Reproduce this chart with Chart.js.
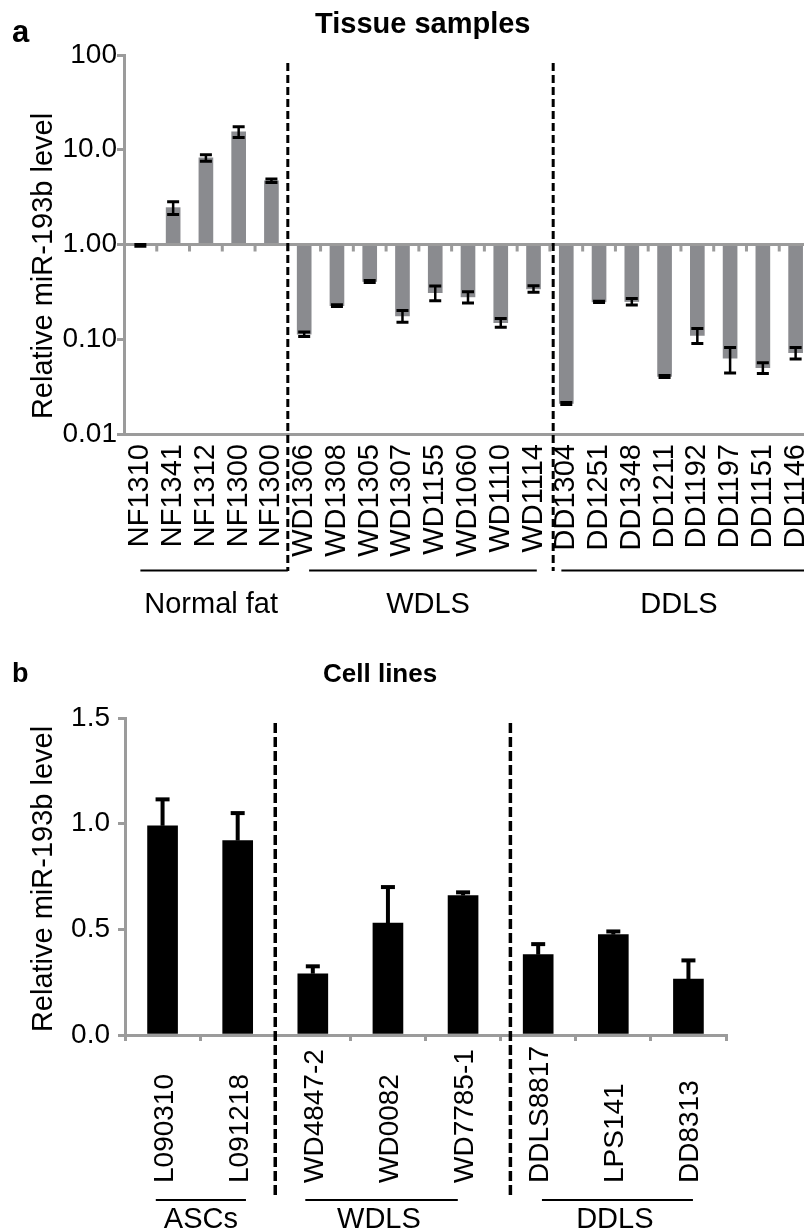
<!DOCTYPE html>
<html>
<head>
<meta charset="utf-8">
<script src="https://cdn.jsdelivr.net/npm/chart.js@4"></script>
<style>
html, body { margin: 0; padding: 0; overflow: hidden; background: #fff; width: 804px; height: 1230px; }
#chartA { position: absolute; left: 0; top: 0; }
#chartB { position: absolute; left: 0; top: 640px; }
</style>
</head>
<body>
<canvas id="chartA" width="812" height="640"></canvas>
<canvas id="chartB" width="804" height="590"></canvas>
<script>
// panel a - tissue samples (log scale, bars start at 1.00)
const tissueLabels = ['NF1310', 'NF1341', 'NF1312', 'NF1300', 'NF1300',
    'WD1306', 'WD1308', 'WD1305', 'WD1307', 'WD1155', 'WD1060', 'WD1110', 'WD1114',
    'DD1304', 'DD1251', 'DD1348', 'DD1211', 'DD1192', 'DD1197', 'DD1151', 'DD1146'];
const tissueValues = [0.98, 2.45, 8.2, 15.5, 4.7,
    0.113, 0.226, 0.407, 0.176, 0.31, 0.28, 0.15, 0.34,
    0.021, 0.248, 0.25, 0.0405, 0.11, 0.063, 0.05, 0.072];
const tissueErrors = [0.02, 0.38, 0.65, 2.0, 0.2,
    0.006, 0.005, 0.01, 0.025, 0.055, 0.038, 0.016, 0.027,
    0.0005, 0.004, 0.02, 0.001, 0.02, 0.019, 0.0065, 0.01];
const tissueTicks = [0.01, 0.1, 1, 10, 100];
const tissueTickLabels = ['0.01', '0.10', '1.00', '10.0', '100'];
const tissueGroups = ['Normal fat', 'WDLS', 'DDLS'];

// panel b - cell lines
const cellLabels = ['L090310', 'L091218', 'WD4847-2', 'WD0082', 'WD7785-1', 'DDLS8817', 'LPS141', 'DD8313'];
const cellValues = [0.99, 0.92, 0.29, 0.53, 0.66, 0.38, 0.475, 0.265];
const cellErrors = [0.125, 0.13, 0.035, 0.17, 0.015, 0.05, 0.015, 0.088];
const cellTickLabels = ['0.0', '0.5', '1.0', '1.5'];
const cellGroups = ['ASCs', 'WDLS', 'DDLS'];

const FONT = '"Liberation Sans", Arial, sans-serif';
const AXIS = '#9b9b9b';
Chart.defaults.font.family = FONT;
Chart.defaults.color = '#000';

function dashed(ctx, px, top, bottom, width, dash) {
    ctx.save();
    ctx.strokeStyle = '#000';
    ctx.lineWidth = width;
    ctx.setLineDash(dash);
    ctx.beginPath();
    ctx.moveTo(px, top);
    ctx.lineTo(px, bottom);
    ctx.stroke();
    ctx.restore();
}

function hline(ctx, x1, x2, py) {
    ctx.save();
    ctx.strokeStyle = '#000';
    ctx.lineWidth = 2;
    ctx.beginPath();
    ctx.moveTo(x1, py);
    ctx.lineTo(x2, py);
    ctx.stroke();
    ctx.restore();
}

function yTitle(ctx, text, bx, cy) {
    ctx.save();
    ctx.translate(bx, cy);
    ctx.rotate(-Math.PI / 2);
    ctx.font = '29px ' + FONT;
    ctx.fillStyle = '#000';
    ctx.textAlign = 'center';
    ctx.textBaseline = 'alphabetic';
    ctx.fillText(text, 0, 0);
    ctx.restore();
}

const tissueDecor = {
    id: 'tissueDecor',
    afterDatasetsDraw(chart) {
        const { ctx, chartArea: a, scales: { x, y } } = chart;
        const y1 = y.getPixelForValue(1);
        ctx.save();
        // 1.00 line with small ticks between samples
        ctx.strokeStyle = AXIS;
        ctx.lineWidth = 3;
        ctx.beginPath();
        ctx.moveTo(a.left, y1);
        ctx.lineTo(a.right, y1);
        for (let i = 1; i <= tissueLabels.length; i++) {
            const px = x.getPixelForValue(i - 0.5);
            ctx.moveTo(px, y1);
            ctx.lineTo(px, y1 + 7);
        }
        ctx.stroke();

        // error bars
        ctx.strokeStyle = '#000';
        tissueValues.forEach((v, i) => {
            const px = x.getPixelForValue(i);
            const hi = y.getPixelForValue(v + tissueErrors[i]);
            const lo = y.getPixelForValue(v - tissueErrors[i]);
            ctx.lineWidth = 2.5;
            ctx.beginPath();
            ctx.moveTo(px, hi);
            ctx.lineTo(px, lo);
            ctx.stroke();
            ctx.lineWidth = 3;
            ctx.beginPath();
            ctx.moveTo(px - 6, hi); ctx.lineTo(px + 6, hi);
            ctx.moveTo(px - 6, lo); ctx.lineTo(px + 6, lo);
            ctx.stroke();
        });
        ctx.restore();

        dashed(ctx, x.getPixelForValue(4.5), 63, 571, 3, [8, 4]);
        dashed(ctx, x.getPixelForValue(12.6), 63, 571, 3, [8, 4]);

        hline(ctx, x.getPixelForValue(0), x.getPixelForValue(4.5), 570.5);
        hline(ctx, x.getPixelForValue(5.15), x.getPixelForValue(12.1), 570.5);
        hline(ctx, x.getPixelForValue(12.85), x.getPixelForValue(21), 570.5);

        ctx.save();
        ctx.fillStyle = '#000';
        ctx.font = '29px ' + FONT;
        ctx.textAlign = 'center';
        [2.16, 8.78, 16.44].forEach((c, i) => {
            ctx.fillText(tissueGroups[i], x.getPixelForValue(c), 613);
        });
        ctx.font = 'bold 31px ' + FONT;
        ctx.textAlign = 'left';
        ctx.fillText('a', 12, 42);
        ctx.font = 'bold 29px ' + FONT;
        ctx.fillText('Tissue samples', 315, 33);
        ctx.restore();

        yTitle(ctx, 'Relative miR-193b level', 52, 266);
    }
};

const cellDecor = {
    id: 'cellDecor',
    afterDatasetsDraw(chart) {
        const { ctx, scales: { x, y } } = chart;
        ctx.save();
        ctx.strokeStyle = '#000';
        cellValues.forEach((v, i) => {
            const px = x.getPixelForValue(i);
            const top = y.getPixelForValue(v);
            const hi = y.getPixelForValue(v + cellErrors[i]);
            ctx.lineWidth = 4;
            ctx.beginPath();
            ctx.moveTo(px, top);
            ctx.lineTo(px, hi);
            ctx.stroke();
            ctx.beginPath();
            ctx.moveTo(px - 7, hi);
            ctx.lineTo(px + 7, hi);
            ctx.stroke();
        });

        // sample names, bottom aligned
        ctx.fillStyle = '#000';
        ctx.font = '28px ' + FONT;
        ctx.textAlign = 'left';
        ctx.textBaseline = 'alphabetic';
        cellLabels.forEach((lab, i) => {
            ctx.save();
            ctx.translate(x.getPixelForValue(i) + 10, 543);
            ctx.rotate(-Math.PI / 2);
            ctx.fillText(lab, 0, 0);
            ctx.restore();
        });
        ctx.restore();

        dashed(ctx, x.getPixelForValue(1.5), 83, 555, 3.5, [10, 4]);
        dashed(ctx, x.getPixelForValue(4.63), 83, 555, 3.5, [10, 4]);

        hline(ctx, x.getPixelForValue(-0.09), x.getPixelForValue(1.11), 560);
        hline(ctx, x.getPixelForValue(1.9), x.getPixelForValue(3.93), 560);
        hline(ctx, x.getPixelForValue(5.05), x.getPixelForValue(7.06), 560);

        ctx.save();
        ctx.fillStyle = '#000';
        ctx.font = '29px ' + FONT;
        ctx.textAlign = 'center';
        [0.51, 2.88, 6.02].forEach((c, i) => {
            ctx.fillText(cellGroups[i], x.getPixelForValue(c), 588);
        });
        ctx.font = 'bold 27px ' + FONT;
        ctx.textAlign = 'left';
        ctx.fillText('b', 12, 42);
        ctx.font = 'bold 26px ' + FONT;
        ctx.fillText('Cell lines', 323, 42);
        ctx.restore();

        yTitle(ctx, 'Relative miR-193b level', 52, 239);
    }
};

new Chart(document.getElementById('chartA'), {
    type: 'bar',
    data: {
        labels: tissueLabels,
        datasets: [{
            data: tissueValues.map(v => [1, v]),
            backgroundColor: '#8a8b8f',
            borderWidth: 0,
            barThickness: 14
        }]
    },
    options: {
        responsive: false,
        animation: false,
        devicePixelRatio: 1,
        layout: { padding: { top: 55, left: 0, right: 0, bottom: 0 } },
        plugins: { legend: { display: false }, tooltip: { enabled: false } },
        scales: {
            x: {
                offset: true,
                grid: { display: false, drawTicks: false },
                border: { display: true, color: AXIS, width: 3 },
                ticks: {
                    autoSkip: false,
                    minRotation: 90,
                    maxRotation: 90,
                    padding: 10,
                    color: '#000',
                    font: { size: 29 }
                },
                afterFit: (scale) => {
                    scale.height = 206;
                    // let the last category run to the canvas edge
                    scale.paddingLeft = 0;
                    scale.paddingRight = 0;
                }
            },
            y: {
                type: 'logarithmic',
                min: 0.01,
                max: 100,
                afterBuildTicks: (scale) => {
                    scale.ticks = tissueTicks.map(v => ({ value: v }));
                },
                grid: { drawOnChartArea: false, color: AXIS, lineWidth: 3, tickLength: 7 },
                border: { display: true, color: AXIS, width: 3 },
                ticks: {
                    padding: 0,
                    color: '#000',
                    font: { size: 28 },
                    callback: (value, index) => tissueTickLabels[index]
                },
                afterFit: (scale) => { scale.width = 124; }
            }
        }
    },
    plugins: [tissueDecor]
});

new Chart(document.getElementById('chartB'), {
    type: 'bar',
    data: {
        labels: cellLabels,
        datasets: [{
            data: cellValues,
            backgroundColor: '#000',
            borderWidth: 0,
            barThickness: 30
        }]
    },
    options: {
        responsive: false,
        animation: false,
        devicePixelRatio: 1,
        layout: { padding: { top: 78, left: 0, right: 78, bottom: 0 } },
        plugins: { legend: { display: false }, tooltip: { enabled: false } },
        scales: {
            x: {
                offset: true,
                grid: { offset: true, drawOnChartArea: false, color: AXIS, lineWidth: 3, tickLength: 6 },
                border: { display: true, color: AXIS, width: 3 },
                ticks: { display: false },
                afterFit: (scale) => { scale.height = 195; }
            },
            y: {
                min: 0,
                max: 1.5,
                grid: { drawOnChartArea: false, color: AXIS, lineWidth: 3, tickLength: 7 },
                border: { display: true, color: AXIS, width: 3 },
                ticks: {
                    stepSize: 0.5,
                    padding: 8,
                    color: '#000',
                    font: { size: 28 },
                    callback: (value, index) => cellTickLabels[index]
                },
                afterFit: (scale) => { scale.width = 125; }
            }
        }
    },
    plugins: [cellDecor]
});
</script>
</body>
</html>
